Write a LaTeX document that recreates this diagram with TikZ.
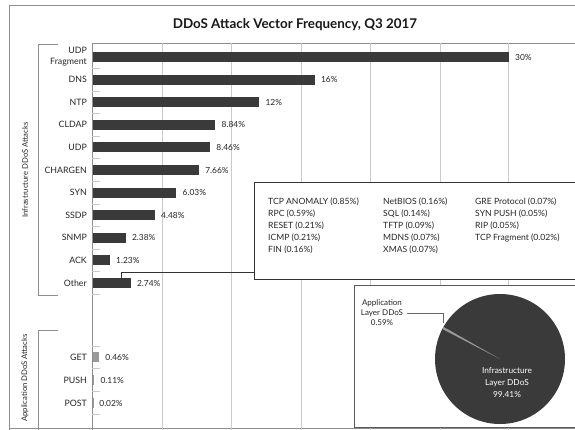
\documentclass[tikz,border=0pt]{standalone}
\usepackage{fontspec}
\setmainfont{Lato}
\definecolor{barc}{HTML}{3A3A3A}
\definecolor{gridc}{HTML}{CACACA}
\definecolor{framec}{HTML}{8E8E8E}
\definecolor{slicec}{HTML}{9A9A9A}
\begin{document}
\begin{tikzpicture}[x=1pt,y=-1pt,
  barnode/.style={fill=barc,inner sep=0pt,minimum height=10pt,anchor=west},
  catlbl/.style={anchor=east,inner sep=0pt,font=\fontsize{8.8}{11}\selectfont,align=right,text=black!85},
  pctlbl/.style={anchor=west,inner sep=0pt,font=\fontsize{8.4}{9}\selectfont,text=black!85},
  boxtxt/.style={anchor=west,inner sep=0pt,font=\fontsize{8.6}{9}\selectfont,text=black!85},
  sidelbl/.style={rotate=90,inner sep=0pt,font=\fontsize{7.7}{9}\selectfont,text=black!85},
  gridln/.style={draw=gridc,line width=0.8pt},
  frameln/.style={draw=framec,line width=0.8pt},
  tickln/.style={draw=gridc,line width=0.8pt},
  boxln/.style={draw=black!80,line width=0.7pt,fill=white}]
\useasboundingbox (0,0) rectangle (575,429);
\clip (0,0) rectangle (575,429);
\fill[white] (0,0) rectangle (575,429);
% outer frame
\draw[frameln] (9,440) -- (9,5) -- (590,5);
\draw[frameln] (9,428) -- (590,428);
% title
\node[font=\bfseries\fontsize{13.4}{15}\selectfont,text=black!90] (title) at (295,25) {DDoS Attack Vector Frequency, Q3 2017};
% header line
\draw[frameln] (92,43) -- (590,43);
% gridlines
\foreach \gx in {162,231.5,301,370.5,440,508} {\draw[gridln] (\gx,43) -- (\gx,440);}
% axis
\draw[frameln] (92,43) -- (92,440);
% ticks
\foreach \i in {0,...,10} {\draw[tickln] (92,{68.3+22.6*\i}) -- (100,{68.3+22.6*\i});}
\foreach \ty in {346,368.5,391,414} {\draw[tickln] (92,\ty) -- (100,\ty);}
% infrastructure bars
\foreach \lab/\val/\i in {{UDP\\Fragment}/30/0, DNS/16/1, NTP/12/2, CLDAP/8.84/3, UDP/8.46/4, CHARGEN/7.66/5, SYN/6.03/6, SSDP/4.48/7, SNMP/2.38/8, ACK/1.23/9, Other/2.74/10} {
  \node[barnode,minimum width={\val*13.87pt}] (bar\i) at (92.5,{57+22.6*\i}) {};
  \node[catlbl] (cat\i) at (87,{57+22.6*\i}) {\lab};
  \node[pctlbl] (pct\i) at ([xshift=6pt]bar\i.east) {\val\%};
}
% application bars
\foreach \lab/\val/\i/\yy in {GET/0.46/0/357, PUSH/0.11/1/380, POST/0.02/2/403} {
  \node[barnode,fill=slicec,minimum width={\val*13.87pt}] (abar\i) at (92.5,\yy) {};
  \node[catlbl] (acat\i) at (87,\yy) {\lab};
  \node[pctlbl] (apct\i) at ([xshift=6pt]abar\i.east) {\val\%};
}
% brackets
\draw[frameln] (58,44) -- (38,44) -- (38,295) -- (58,295);
\draw[frameln] (58,330) -- (38,330) -- (38,440);
\node[sidelbl] (infl) at (25,170) {Infrastructure DDoS Attacks};
\node[sidelbl] (appl) at (25,378) {Application DDoS Attacks};
% other box
\node[boxln,anchor=north west,minimum width=340pt,minimum height=97pt,inner sep=0pt] (otherbox) at (254,182) {};
\coordinate (otherjoin) at (254,272);
\coordinate (otherbase) at (121,278);
\draw[draw=black!80,line width=0.7pt] (otherbase) |- (otherjoin);
\foreach \t/\c/\r in {TCP ANOMALY (0.85\%)/0/0, RPC (0.59\%)/0/1, RESET (0.21\%)/0/2, ICMP (0.21\%)/0/3, FIN (0.16\%)/0/4,
  NetBIOS (0.16\%)/1/0, SQL (0.14\%)/1/1, TFTP (0.09\%)/1/2, MDNS (0.07\%)/1/3, XMAS (0.07\%)/1/4,
  GRE Protocol (0.07\%)/2/0, SYN PUSH (0.05\%)/2/1, RIP (0.05\%)/2/2, TCP Fragment (0.02\%)/2/3} {
  \pgfmathsetmacro{\cx}{\c==0 ? 268 : (\c==1 ? 383 : 475)}
  \node[boxtxt] (bt\c\r) at (\cx,{202+12*\r}) {\t};
}
% pie box
\node[boxln,draw=black!65,anchor=north west,minimum width=240pt,minimum height=142pt,inner sep=0pt] (piebox) at (354,285) {};
\coordinate (pc) at (500,359);
\fill[barc] (pc) circle[radius=65];
\fill[slicec] (pc) -- ++(-150.4:65) arc[start angle=-150.4,end angle=-152.5,radius=65] -- cycle;
\node[font=\fontsize{8}{10}\selectfont,align=center,text=black!85,inner sep=0pt] (applbl) at (382,313) {Application\\Layer DDoS\\0.59\%};
\coordinate (slicept) at (443,323);
\draw[draw=black!60,line width=0.6pt] (applbl.east) ++(4,0) -| (slicept);
\node[font=\fontsize{8.3}{12}\selectfont,align=center,text=white,inner sep=0pt] (inflbl) at (507,383) {Infrastructure\\Layer DDoS\\99.41\%};
\end{tikzpicture}
\end{document}
